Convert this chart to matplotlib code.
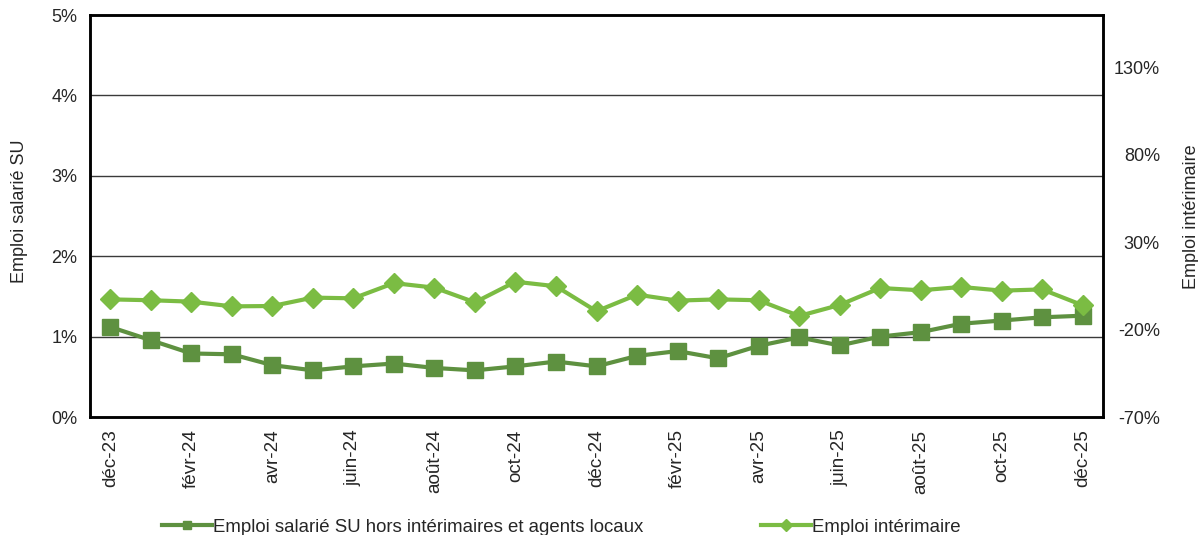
import matplotlib
matplotlib.use("Agg")
import matplotlib.pyplot as plt
from matplotlib.lines import Line2D

plt.rcParams['font.family'] = ['Liberation Sans', 'DejaVu Sans']

months = ["déc-23", "janv-24", "févr-24", "mars-24", "avr-24", "mai-24", "juin-24",
          "juil-24", "août-24", "sept-24", "oct-24", "nov-24", "déc-24", "janv-25",
          "févr-25", "mars-25", "avr-25", "mai-25", "juin-25", "juil-25", "août-25",
          "sept-25", "oct-25", "nov-25", "déc-25"]

# Emploi salarié SU hors intérimaires et agents locaux (left axis, %)
emploi_su = [1.12, 0.955, 0.79, 0.78, 0.645, 0.58, 0.63, 0.665, 0.61, 0.58, 0.63, 0.69,
             0.63, 0.76, 0.82, 0.73, 0.885, 0.99, 0.89, 1.00, 1.055, 1.16, 1.20, 1.24, 1.26]

# Emploi intérimaire (right axis, %)
emploi_interim = [-2.7, -3.2, -4.0, -6.7, -6.5, -1.7, -2.1, 6.6, 4.0, -4.4, 7.4, 4.8,
                  -9.5, 0.0, -3.4, -2.7, -3.2, -12.2, -5.9, 3.8, 2.5, 4.4, 2.3, 3.0, -6.1]

left_ticks = [0, 1, 2, 3, 4, 5]
right_ticks = [-70, -20, 30, 80, 130]

dark = "#5E9140"
light = "#7BBC43"
txt = "#262626"
fs = 13

fig = plt.figure(figsize=(11.98, 5.35), dpi=100)
ax = fig.add_axes([90/1198, 1-417/535, (1103-90)/1198, (417-15)/535])
ax2 = ax.twinx()

x = list(range(len(months)))
ax.plot(x, emploi_su, color=dark, lw=3, marker='s', ms=11, zorder=3)
ax2.plot(x, emploi_interim, color=light, lw=3, marker='D', ms=10, zorder=3)

ax.set_xlim(-0.5, len(months) - 0.5)
ax.set_ylim(0, 5)
ax2.set_ylim(-70, 160)

ax.set_yticks(left_ticks)
ax.set_yticklabels([f"{v}%" for v in left_ticks], fontsize=fs, color=txt)
ax2.set_yticks(right_ticks)
ax2.set_yticklabels([f"{v}%" for v in right_ticks], fontsize=fs, color=txt, ha='right')
ax.tick_params(axis='y', length=0, pad=9)
ax2.tick_params(axis='y', length=0, pad=41)

ax.set_xticks(x[::2])
ax.set_xticklabels(months[::2], rotation=90, fontsize=13.6, color=txt, va='top', ha='center')
ax.tick_params(axis='x', length=0, pad=9)

for yv in left_ticks[1:-1]:
    ax.axhline(yv, color="#3a3a3a", lw=1.0, zorder=1)

for a in (ax, ax2):
    for s in a.spines.values():
        s.set_linewidth(1.8)
        s.set_color("black")

fig.text(20/1198, 1-211/535, "Emploi salarié SU", rotation=90, fontsize=fs,
         color=txt, ha='center', va='center')
fig.text(1191/1198, 1-217/535, "Emploi intérimaire", rotation=90, fontsize=fs,
         color=txt, ha='center', va='center')

handles = [Line2D([], [], color=dark, lw=3, marker='s', ms=6),
           Line2D([], [], color=light, lw=3, marker='D', ms=6)]
fig.legend(handles, ["Emploi salarié SU hors intérimaires et agents locaux", "Emploi intérimaire"],
           loc='center', bbox_to_anchor=(561/1198, 1-527/535), ncol=2, frameon=False,
           fontsize=13.4, handlelength=2.7, handletextpad=0.05, columnspacing=6.3,
           labelcolor=txt)

fig.savefig("out.png", dpi=100)
